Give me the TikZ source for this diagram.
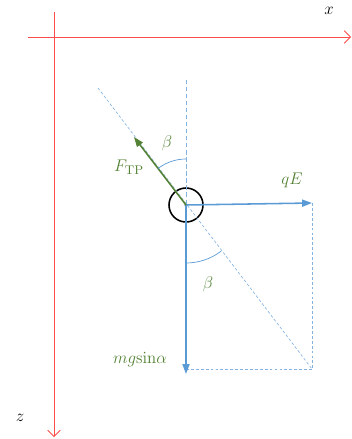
\documentclass[tikz,border=0pt]{standalone}
\usepackage{tikz}
\usetikzlibrary{arrows.meta, positioning, calc}
\definecolor{axisred}{RGB}{255,77,77}
\definecolor{forceblue}{RGB}{91,155,213}
\definecolor{guideblue}{RGB}{130,178,224}
\definecolor{forcegreen}{RGB}{84,130,53}

\begin{document}
\begin{tikzpicture}[x=0.025cm, y=-0.025cm,
  axis/.style={draw=axisred, line width=0.6pt, -{Straight Barb[length=4.5pt, width=9pt]}},
  force/.style={draw=#1, line width=1.1pt, -{Triangle[length=7pt, width=5pt]}},
  guide/.style={draw=guideblue, line width=0.45pt, dash pattern=on 2pt off 1.5pt},
  lbl/.style={font=\fontsize{12.5}{14}\selectfont, text=#1},
]
\useasboundingbox (0,0) rectangle (352,439);
% Axes
\coordinate (xstart) at (28,37);
\coordinate (xend) at (351,37);
\coordinate (zstart) at (54,12);
\coordinate (zend) at (54,437);
\draw[axis] (xstart) -- (xend);
\draw[axis] (zstart) -- (zend);
\node[lbl=black] (xlab) at (329,11) {$x$};
\node[lbl=black] (zlab) at (20,418) {$z$};

% Body
\node[circle, draw, line width=1.1pt, minimum size=0.85cm, inner sep=0pt] (ball) at (186,205) {};
\fill (ball.center) circle[radius=1.6];

% Guide lines (dashed)
\coordinate (vtop) at (186,80);
\coordinate (dtop) at (98,88);
\coordinate (corner) at (312,369);
\coordinate (qEend) at (312,203);
\coordinate (mgfoot) at (186,369);
\coordinate (mgend) at (186,374);
\coordinate (Fend) at (134,137);
\draw[guide, dash pattern=on 3pt off 2pt] (vtop) -- (ball.center);
\draw[guide] (dtop) -- (corner);
\draw[guide] (qEend) -- (corner);
\draw[guide] (mgfoot) -- (corner);

% Forces
\draw[force=forceblue] (ball.center) -- (qEend);
\draw[force=forceblue] (ball.center) -- (mgend);
\draw[force=forcegreen] (ball.center) -- (Fend);

% Angles
\draw[forceblue, line width=0.5pt] (ball.center) ++(-127.7:46) arc[start angle=-127.7, end angle=-90, radius=46];
\draw[forceblue, line width=0.5pt] (ball.center) ++(90:58) arc[start angle=90, end angle=52.6, radius=58];

% Labels
\node[lbl=forcegreen] (betatop) at (167,143) {$\beta$};
\node[lbl=forcegreen] (Flab) at (129,167) {$F_{\mathrm{TP}}$};
\node[lbl=forcegreen] (qElab) at (292,180) {$qE$};
\node[lbl=forcegreen] (betabot) at (208,284) {$\beta$};
\node[lbl=forcegreen] (mglab) at (140,360) {$mg\mathrm{sin}\alpha$};
\end{tikzpicture}
\end{document}
